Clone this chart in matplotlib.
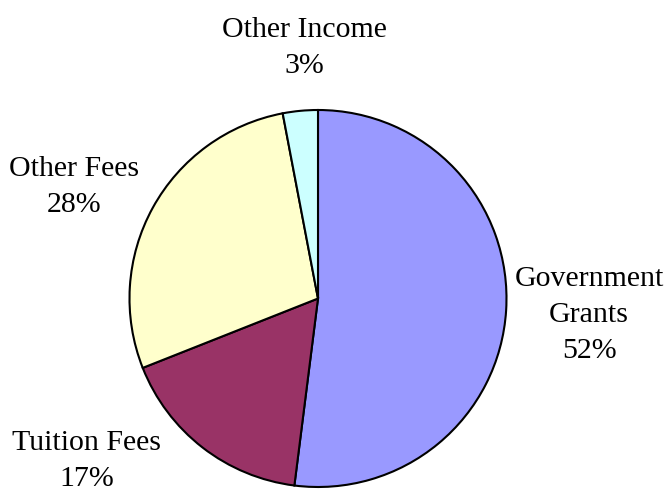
import matplotlib
matplotlib.use('Agg')
import matplotlib.pyplot as plt

labels = ["Government\nGrants", "Tuition Fees", "Other Fees", "Other Income"]
shares = [52, 17, 28, 3]
colors = ["#9999FF", "#993366", "#FFFFCC", "#CCFFFF"]

W, H = 669, 493
plt.rcParams['font.family'] = ['Liberation Serif', 'DejaVu Serif']

fig = plt.figure(figsize=(W / 100, H / 100), dpi=100)
# pie centre (318, 298.5) px, radius 188.5 px
cx, cy, r = 318, 298.5, 188.5
ax = fig.add_axes([(cx - r) / W, (H - cy - r) / H, 2 * r / W, 2 * r / H])
ax.pie(shares, colors=colors, startangle=90, counterclock=False,
       wedgeprops=dict(edgecolor='black', linewidth=1.5))
ax.set_xlim(-1, 1)
ax.set_ylim(-1, 1)
ax.set_aspect('equal')
ax.axis('off')

# label positions in pixels (x, y from top)
label_pos = [(589, 315), (87, 461), (74, 187), (304, 48)]
for lab, val, (x, y) in zip(labels, shares, label_pos):
    fig.text(x / W, 1 - y / H, f"{lab}\n{val}%", ha='center', va='center',
             multialignment='center', fontsize=21.5, linespacing=1.5)

plt.savefig('out.png', dpi=100)
